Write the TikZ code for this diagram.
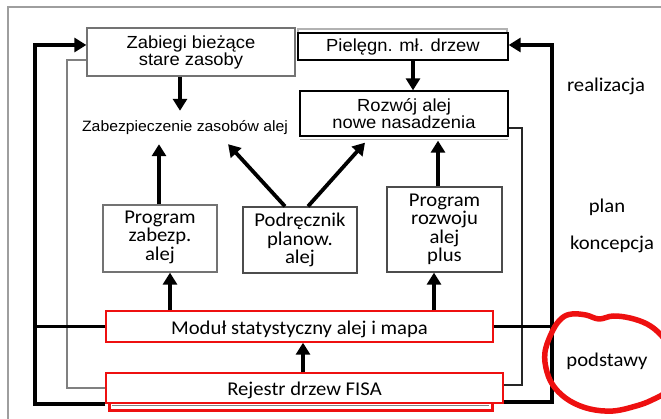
\documentclass[tikz,border=0pt]{standalone}
\usepackage{fontspec}
\usetikzlibrary{arrows.meta,calc}
\newfontfamily\arialf[FakeStretch=1.05]{Liberation Sans}
\newfontfamily\calf[FakeStretch=1.06]{Carlito}
\definecolor{frameg}{gray}{0.62}
\definecolor{boxg}{gray}{0.45}
\definecolor{dboxg}{gray}{0.3}
\definecolor{lred}{RGB}{238,16,16}
\begin{document}
\begin{tikzpicture}[x=1pt,y=-1pt,
  afont/.style={font={\arialf\fontsize{17.5}{17}\selectfont}},
  cfont/.style={font={\calf\fontsize{19.5}{18.5}\selectfont}},
  abox/.style={draw=boxg, line width=1.3pt, fill=white, align=center, inner sep=0pt, afont},
  kbox/.style={draw=black, line width=1.3pt, fill=white, align=center, inner sep=0pt, afont},
  cbox/.style={draw=#1, line width=1.3pt, fill=white, align=center, inner sep=0pt, cfont},
  rbox/.style={draw=lred, line width=1.4pt, fill=white, inner sep=0pt, cfont},
  lbl/.style={inner sep=0pt, anchor=base, cfont},
  arr/.style={line width=3.8pt, -{Triangle[length=12pt,width=14pt]}},
  blk/.style={line width=3.8pt, black},
  gline/.style={line width=2pt, gray},
  tline/.style={line width=2pt, black!85},
]
\path[use as bounding box] (0,0) rectangle (661,419);
\clip (0,0) rectangle (661,419);
% outer frame
\draw[frameg, line width=1.8pt] (8,440) -- (8,7) -- (680,7);
% helper coordinates for the vertical buses
\coordinate (L) at (35,0);
\coordinate (G) at (67,0);
\coordinate (R1) at (522,0);
\coordinate (R2) at (552,0);
% boxes
\node[abox, minimum width=208pt, minimum height=48pt] (zab) at (191,52) {Zabiegi bieżące\\stare zasoby};
\draw[gray!60, line width=1.2pt] (298,45) |- (507,29) -- (507,45);
\node[kbox, minimum width=210pt, minimum height=27pt] (piel) at (403,46.5) {Pielęgn. mł. drzew};
\draw[gray!60, line width=1.2pt] (300,139.5) -- (508,139.5);
\node[kbox, minimum width=208pt, minimum height=45pt] (roz) at (404,113.5) {Rozwój alej\\nowe nasadzenia};
\node[font={\arialf\fontsize{15}{15}\selectfont}, inner sep=0pt, text height=21pt, text depth=12pt, anchor=base] (zt) at (185,132) {Zabezpieczenie zasobów alej};
\node[cbox=boxg, minimum width=114pt, minimum height=67pt] (pz) at (160,238.5) {Program\\zabezp.\\alej\rule[-6pt]{0pt}{6pt}};
\node[cbox=dboxg, minimum width=114pt, minimum height=66pt] (pd) at (300,240) {Podręcznik\\planow.\\alej};
\node[cbox=dboxg, minimum width=115pt, minimum height=85pt] (pr) at (444.5,229.5) {Program\\rozwoju\\alej\\plus};
\node[rbox, minimum width=387pt, text height=24pt, text depth=7pt, anchor=base] (mod) at (299.5,335) {Moduł statystyczny alej i mapa};
\draw[lred, line width=3pt, fill=white] (109,392) rectangle (492,410);
\draw[gray, line width=1pt] (112,405.5) -- (489,405.5);
\node[rbox, minimum width=397pt, text height=22pt, text depth=8pt, anchor=base] (rej) at (304.5,395) {Rejestr drzew FISA};
% left buses
\draw[gline] (rej.west) -- (rej.west -| G) |- ([yshift=-8pt]zab.west);
\draw[blk] (mod.west) -- (mod.west -| L);
\draw[blk, -{Triangle[length=12pt,width=14pt]}] (rej.south west) -- (rej.south west -| L) |- ([yshift=7pt]zab.west);
% right buses
\draw[tline] ([yshift=-14.5pt]roz.east) -- ([yshift=-14.5pt]roz.east -| R1) |- ([yshift=3pt]rej.east);
\draw[blk] (mod.east) -- (mod.east -| R2);
\draw[blk, -{Triangle[length=12pt,width=14pt]}] ([yshift=2pt]rej.south east) -- ([yshift=2pt]rej.south east -| R2) |- ([yshift=1.5pt]piel.east);
% arrows
\draw[arr] ([xshift=-11pt]zab.south) -- ([xshift=-5pt]zt.north);
\draw[arr] ([xshift=10pt]piel.south) -- ([xshift=9pt]roz.north);
\draw[arr] ([xshift=-1pt]pz.north) -- ([xshift=-26pt]zt.south);
\draw[arr] ([xshift=-15pt]pd.north) -- ([xshift=-60pt]zt.south east);
\draw[arr] ([xshift=8pt]pd.north) -- ([xshift=-39pt,yshift=-6pt]roz.south);
\draw[arr] ([xshift=-6.5pt]pr.north) -- ([xshift=34pt,yshift=-4pt]roz.south);
\draw[arr] ([xshift=-129.5pt]mod.north) -- ([xshift=10pt]pz.south);
\draw[arr] ([xshift=134.5pt]mod.north) -- ([xshift=-10.5pt]pr.south);
\draw[arr] ([xshift=-1.5pt]rej.north) -- ([xshift=3.5pt]mod.south);
% right-hand labels
\node[lbl] (lreal) at (606,92) {realizacja};
\node[lbl] (lplan) at (607,213) {plan};
\node[lbl] (lkonc) at (612,250) {koncepcja};
\node[lbl] (lpods) at (607,366.5) {podstawy};
% hand-drawn red ring
\draw[lred, line width=5.5pt, line join=round] plot[smooth cycle, tension=0.6] coordinates {
 (553,330) (562,318) (572,314) (586,315) (599,319) (613,316) (630,318) (647,324)
 (660,334) (672,350) (676,370) (668,390) (652,400) (636,406) (613,411) (590,409)
 (570,401) (555,388) (547,372) (545,352)};
\end{tikzpicture}
\end{document}
